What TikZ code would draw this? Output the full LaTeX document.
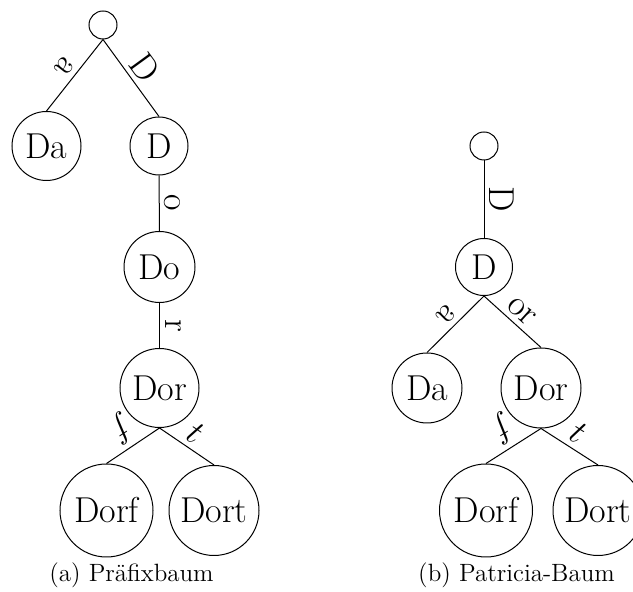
\documentclass[tikz,border=0pt]{standalone}
\usepackage{fontspec}
\begin{document}
\begin{tikzpicture}[x=0.5pt,y=-0.5pt,
  tn/.style={circle,draw,line width=0.5pt,inner sep=0pt,minimum size=#1,font=\fontsize{18}{21}\selectfont},
  edge/.style={draw,line width=0.5pt},
  lbl/.style={font=\fontsize{18}{21}\selectfont,sloped,pos=0.5,inner sep=2.5pt},
  lblL/.style={lbl,allow upside down,below},
  lblR/.style={lbl,above},
  captext/.style={font=\fontsize{12.5}{15}\selectfont}]
\useasboundingbox (0,0) rectangle (633,592);
% (a) Praefixbaum
\node[tn=14pt] (r1) at (103,25) {};
\node[tn=34.5pt] (da1) at (46.5,146) {Da};
\node[tn=29pt] (d1) at (159,146) {D};
\node[tn=35.5pt] (do1) at (159.5,267) {Do};
\node[tn=39.5pt] (dor1) at (159.5,388) {Dor};
\node[tn=46.5pt] (dorf1) at (106.5,510.5) {Dorf};
\node[tn=45pt] (dort1) at (214,510.5) {Dort};
\draw[edge] (r1.south) -- node[lblL]{a} (da1.north);
\draw[edge] (r1.south) -- node[lblR]{D} (d1.north);
\draw[edge] (d1.south) -- node[lblR]{o} (do1.north);
\draw[edge] (do1.south) -- node[lblR]{r} (dor1.north);
\draw[edge] (dor1.south) -- node[lblL]{$f$} (dorf1.north);
\draw[edge] (dor1.south) -- node[lblR]{$t$} (dort1.north);
% (b) Patricia-Baum
\node[tn=14pt] (r2) at (484,146) {};
\node[tn=28.5pt] (d2) at (484,267) {D};
\node[tn=35pt] (da2) at (427,388) {Da};
\node[tn=40pt] (dor2) at (541,388) {Dor};
\node[tn=46.5pt] (dorf2) at (486,510.5) {Dorf};
\node[tn=45pt] (dort2) at (598,510.5) {Dort};
\draw[edge] (r2.south) -- node[lblR]{D} (d2.north);
\draw[edge] (d2.south) -- node[lblL]{a} (da2.north);
\draw[edge] (d2.south) -- node[lblR]{or} (dor2.north);
\draw[edge] (dor2.south) -- node[lblL]{$f$} (dorf2.north);
\draw[edge] (dor2.south) -- node[lblR]{$t$} (dort2.north);
% captions
\node[captext] (capa) at (131.5,575) {(a) Präfixbaum};
\node[captext] (capb) at (516.5,575) {(b) Patricia-Baum};
\end{tikzpicture}
\end{document}
